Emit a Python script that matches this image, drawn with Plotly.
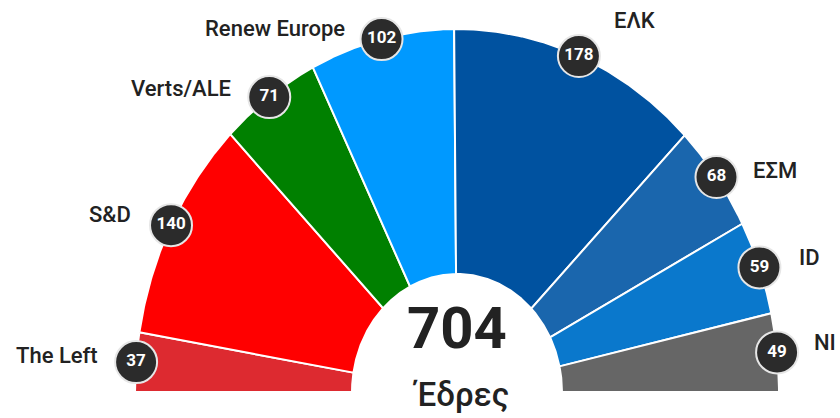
import numpy as np
import plotly.graph_objects as go

# ---- data ----
parties = ["The Left", "S&D", "Verts/ALE", "Renew Europe", "ΕΛΚ", "ΕΣΜ", "ID", "NI"]
seats = [37, 140, 71, 102, 178, 68, 59, 49]
center_caption = "Έδρες"

# ---- style ----
colors = ["#dd2a30", "#ff0000", "#008000", "#0099ff", "#0052a0", "#1a66ad", "#0a78cc", "#666666"]
label_offsets = [(-36, 7), (-38, 11), (-36, 9), (-35, 11), (33, 36), (35, 7), (38, 10), (35, 10)]
W, H = 840, 418
CX, CY = 457, 26
RXO, RYO = 322, 363
RXI, RYI = 105, 118
FONT = "Roboto"

total = sum(seats)
cum = np.concatenate([[0], np.cumsum(seats)])
theta = np.pi * (1 - cum / total)

fig = go.Figure()
for i, (name, s) in enumerate(zip(parties, seats)):
    t = np.linspace(theta[i], theta[i + 1], 80)
    xo = CX + RXO * np.cos(t)
    yo = CY + RYO * np.sin(t)
    xi = CX + RXI * np.cos(t[::-1])
    yi = CY + RYI * np.sin(t[::-1])
    fig.add_trace(go.Scatter(
        x=np.concatenate([xo, xi, xo[:1]]), y=np.concatenate([yo, yi, yo[:1]]),
        fill="toself", fillcolor=colors[i], mode="lines",
        line=dict(color="white", width=2), hoverinfo="skip", showlegend=False))

mid = (theta[:-1] + theta[1:]) / 2
bx = CX + RXO * np.cos(mid)
by = CY + RYO * np.sin(mid)
fig.add_trace(go.Scatter(
    x=bx, y=by, mode="markers+text",
    marker=dict(size=42, color="#2b2b2b", line=dict(color="#e6e6e6", width=2)),
    text=[str(s) for s in seats], textposition="middle center",
    textfont=dict(family=FONT, size=17, color="white", weight="bold"),
    hoverinfo="skip", showlegend=False))

for i, name in enumerate(parties):
    dx, dy = label_offsets[i]
    fig.add_annotation(
        x=bx[i] + dx, y=by[i] + dy, text=name, showarrow=False,
        xanchor="right" if dx < 0 else "left", yanchor="middle",
        font=dict(family=FONT, size=22, color="#222222", weight=500))

fig.add_annotation(x=CX, y=90, text=str(total), showarrow=False,
                   xanchor="center", yanchor="middle",
                   font=dict(family=FONT, size=58, color="#222222", weight="bold"))
fig.add_annotation(x=CX + 3, y=24, text=center_caption, showarrow=False,
                   xanchor="center", yanchor="middle",
                   font=dict(family=FONT, size=33, color="#222222", weight=500))

fig.update_layout(
    width=W, height=H, margin=dict(l=0, r=0, t=0, b=0),
    paper_bgcolor="white", plot_bgcolor="white",
    xaxis=dict(range=[0, W], visible=False, fixedrange=True),
    yaxis=dict(range=[0, H], visible=False, fixedrange=True),
)
fig.write_html(
    "out.html",
    config={"displayModeBar": False},
    post_script="document.body.style.margin='0';document.body.style.overflow='hidden';",
)
